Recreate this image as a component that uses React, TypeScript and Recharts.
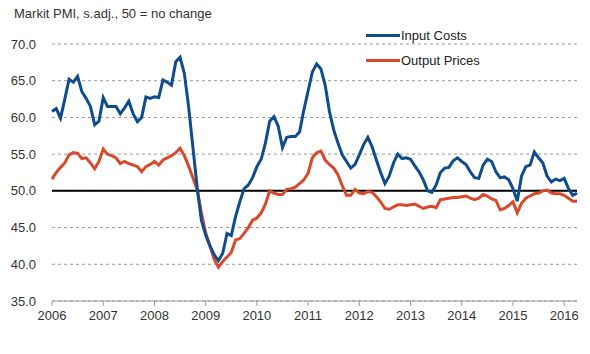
import React from 'react';
import { LineChart, Line, XAxis, YAxis, CartesianGrid, ReferenceLine } from 'recharts';

// Markit PMI price indices, monthly Jan 2006 – Apr 2016
const inputCosts = [
  60.8, 61.2, 59.9, 62.5, 65.2, 64.8, 65.6, 63.5, 62.6, 61.5, 59.0, 59.5,
  62.7, 61.5, 61.5, 61.5, 60.5, 61.3, 62.2, 60.5, 59.4, 60.0, 62.8, 62.6,
  62.8, 62.7, 65.1, 64.8, 64.4, 67.6, 68.2, 66.0, 61.5, 56.0, 50.5, 46.0,
  44.0, 42.5, 41.3, 40.5, 41.5, 44.2, 43.9, 46.5, 48.5, 50.3, 50.8, 51.8,
  53.3, 54.3, 56.5, 59.5, 60.1, 58.8, 55.9, 57.3, 57.4, 57.4, 58.0, 61.0,
  63.6, 66.2, 67.3, 66.6, 64.4, 60.8, 58.3, 56.5, 54.9, 54.0, 53.1, 53.6,
  54.9, 56.3, 57.3, 56.0, 54.2, 52.5, 51.0, 52.0, 53.8, 55.0, 54.4, 54.5,
  54.3, 53.4, 52.6, 51.5, 50.0, 49.8, 50.8, 52.5, 53.1, 53.2, 54.1, 54.5,
  54.0, 53.6, 52.6, 51.8, 51.7, 53.5, 54.3, 54.0, 52.6, 51.8, 51.9, 51.5,
  50.3, 48.6, 52.0, 53.3, 53.5, 55.3, 54.5, 53.8, 52.0, 51.2, 51.6, 51.4,
  51.7, 50.3, 49.4, 49.7,
];

const outputPrices = [
  51.6, 52.5, 53.2, 53.8, 54.9, 55.2, 55.1, 54.4, 54.5, 53.8, 53.0, 54.0,
  55.7, 55.0, 54.8, 54.5, 53.7, 54.0, 53.7, 53.5, 53.3, 52.6, 53.3, 53.6,
  54.0, 53.5, 54.2, 54.5, 54.8, 55.2, 55.8, 54.8, 53.4, 51.8, 50.2, 47.0,
  44.3, 42.5, 40.7, 39.6, 40.4, 41.0, 41.6, 43.3, 43.5, 44.2, 45.0, 46.0,
  46.3, 47.0, 48.2, 50.0, 49.7, 49.5, 49.5, 50.2, 50.3, 50.5, 51.0, 51.5,
  52.4, 54.5, 55.2, 55.4, 54.2, 53.6, 53.1, 52.2, 50.7, 49.4, 49.4, 50.2,
  49.7, 49.6, 49.9, 49.8, 49.2, 48.5, 47.6, 47.5, 47.8, 48.1, 48.1, 48.0,
  48.1, 48.2, 47.9, 47.6, 47.8, 47.9, 47.7, 48.8, 48.9, 49.0, 49.1, 49.1,
  49.2, 49.3, 49.0, 48.8, 49.0, 49.5, 49.3, 48.9, 48.7, 47.4, 47.6, 48.0,
  48.5, 47.0, 48.3, 49.0, 49.3, 49.6, 49.7, 50.0, 50.1, 49.7, 49.6, 49.6,
  49.4, 49.0, 48.6, 48.6,
];

const years = [2006, 2007, 2008, 2009, 2010, 2011, 2012, 2013, 2014, 2015, 2016];
const yTicks = [35, 40, 45, 50, 55, 60, 65, 70];

const BLUE = '#0f4c8c';
const RED = '#d6492a';
const FONT = '"Liberation Sans", Arial, sans-serif';

const rows = inputCosts.map((v, i) => ({ t: i, input: v, output: outputPrices[i] }));
const xTicks = years.map((_, i) => i * 12);

function LegendBox() {
  const items = [
    { name: 'Input Costs', color: BLUE },
    { name: 'Output Prices', color: RED },
  ];
  return (
    <div style={{ position: 'absolute', left: 366, top: 23, fontFamily: FONT, fontSize: 13, color: '#222' }}>
      {items.map((it) => (
        <div key={it.name} style={{ display: 'flex', alignItems: 'center', height: 25 }}>
          <span style={{ width: 34, height: 3, background: it.color, marginRight: 1 }} />
          <span>{it.name}</span>
        </div>
      ))}
    </div>
  );
}

export default function App() {
  return (
    <div style={{ position: 'absolute', left: 0, top: 0, width: 590, height: 354, background: '#fff' }}>
      <div style={{ position: 'absolute', left: 14, top: 6, fontFamily: FONT, fontSize: 13, color: '#333' }}>
        Markit PMI, s.adj., 50 = no change
      </div>
      <LineChart width={590} height={354} data={rows} margin={{ top: 44, right: 13, left: 8, bottom: 23 }}>
        <CartesianGrid vertical={false} stroke="#9a9a9a" strokeDasharray="3 3" />
        <XAxis
          dataKey="t"
          type="number"
          domain={[0, 123]}
          ticks={xTicks}
          tickFormatter={(v: number) => String(years[v / 12])}
          axisLine={{ stroke: '#9a9a9a' }}
          tickLine={{ stroke: '#9a9a9a' }}
          tickSize={5}
          tickMargin={5}
          height={30}
          tick={{ fontSize: 13, fill: '#333', fontFamily: FONT }}
        />
        <YAxis
          domain={[35, 70]}
          ticks={yTicks}
          width={44}
          axisLine={false}
          tickLine={false}
          tickMargin={10}
          tickFormatter={(v: number) => v.toFixed(1)}
          tick={{ fontSize: 13, fill: '#333', fontFamily: FONT }}
        />
        <ReferenceLine y={50} stroke="#000" strokeWidth={2} />
        <Line dataKey="output" stroke={RED} strokeWidth={3} dot={false} isAnimationActive={false} />
        <Line dataKey="input" stroke={BLUE} strokeWidth={3} dot={false} isAnimationActive={false} />
      </LineChart>
      <LegendBox />
    </div>
  );
}
